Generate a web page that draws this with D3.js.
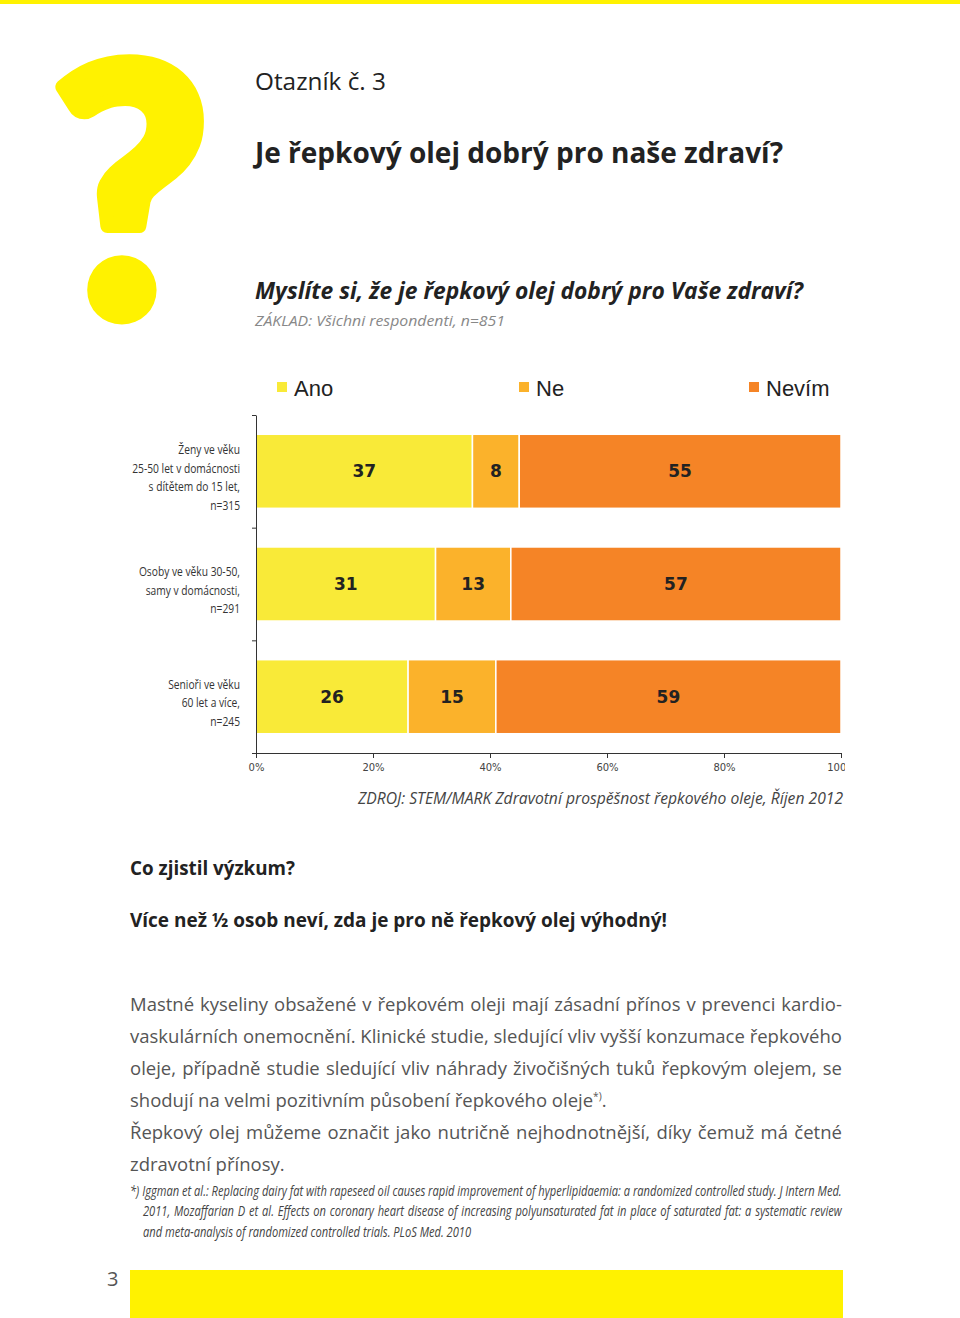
<!DOCTYPE html>
<html>
<head>
<meta charset="utf-8">
<script src="https://cdn.jsdelivr.net/npm/d3@7"></script>
<style>
  body { margin: 0; background: #fff; }
  svg { display: block; }
</style>
</head>
<body>
<div id="chart"></div>
<script>
// data
var groupKeys = ["zeny", "osoby", "seniori"];
var groupLabels = [
  ["Ženy ve věku", "25-50 let v domácnosti", "s dítětem do 15 let,", "n=315"],
  ["Osoby ve věku 30-50,", "samy v domácnosti,", "n=291"],
  ["Senioři ve věku", "60 let a více,", "n=245"]
];
var seriesNames = ["Ano", "Ne", "Nevím"];
var ano = [37, 31, 26];
var ne = [8, 13, 15];
var nevim = [55, 57, 59];
var tickValues = [0, 0.2, 0.4, 0.6, 0.8, 1];

var svgWidth = 960, svgHeight = 1318;
var yellow = "#fff200";
var textFont = "'Open Sans', 'Noto Sans', sans-serif";

var svg = d3.select("#chart")
  .append("svg")
  .attr("width", svgWidth)
  .attr("height", svgHeight);

// page decoration
svg.append("rect").attr("x", 0).attr("y", 0).attr("width", svgWidth).attr("height", 4).attr("fill", yellow);
svg.append("rect").attr("x", 130).attr("y", 1270).attr("width", 713).attr("height", 48).attr("fill", yellow);

// big question mark, thickened with a stroke of the same colour
svg.append("text")
  .attr("transform", "translate(51,315) scale(0.985,1)")
  .attr("font-family", "Lato, sans-serif")
  .attr("font-weight", 900)
  .attr("font-size", 346)
  .attr("fill", yellow)
  .attr("stroke", yellow)
  .attr("stroke-width", 14)
  .attr("stroke-linejoin", "round")
  .text("?");

svg.append("text")
  .attr("x", 107).attr("y", 1286)
  .attr("font-family", textFont).attr("font-size", 20).attr("fill", "#555")
  .text("3");

// headings
function heading(t, x, y, size, w, opts) {
  var s = svg.append("text")
    .attr("x", x).attr("y", y)
    .attr("font-family", textFont)
    .attr("font-size", size)
    .attr("fill", opts.fill || "#222")
    .attr("font-weight", opts.weight || "normal")
    .attr("font-style", opts.style || "normal")
    .attr("textLength", w)
    .attr("lengthAdjust", "spacingAndGlyphs")
    .text(t);
  return s;
}
heading("Otazník č. 3", 255, 90, 23, 131, {fill: "#222"});
heading("Je řepkový olej dobrý pro naše zdraví?", 255, 163, 28, 528, {weight: "bold"});
heading("Myslíte si, že je řepkový olej dobrý pro Vaše zdraví?", 255, 299, 24, 548, {weight: "bold", style: "italic"});
heading("ZÁKLAD: Všichni respondenti, n=851", 255, 326, 15, 250, {style: "italic", fill: "#888"});
heading("ZDROJ: STEM/MARK Zdravotní prospěšnost řepkového oleje, Říjen 2012", 358, 804, 16, 485, {style: "italic", fill: "#444"});
heading("Co zjistil výzkum?", 130, 875, 20, 165, {weight: "bold"});
heading("Více než ½ osob neví, zda je pro ně řepkový olej výhodný!", 130, 927, 20, 537, {weight: "bold"});

// legend
var color = d3.scaleOrdinal()
  .domain(seriesNames)
  .range(["#f9ea38", "#fbb22b", "#f58426"]);
var legendX = [277, 519, 749];

var legend = svg.append("g").selectAll("g")
  .data(seriesNames)
  .enter()
  .append("g")
  .attr("transform", (d, i) => `translate(${legendX[i]}, 382)`);
legend.append("rect").attr("width", 10).attr("height", 10).attr("fill", d => color(d));
legend.append("text")
  .attr("x", 17).attr("y", 14)
  .attr("font-family", "'Liberation Sans', Arial, sans-serif")
  .attr("font-size", 22)
  .attr("fill", "#222")
  .text(d => d);

// chart
var x = d3.scaleLinear().domain([0, 1]).range([256, 841]);
var y = d3.scaleBand().domain(groupKeys).range([415, 753]).paddingInner(0.343).paddingOuter(0.171);
var yEdge = d3.scaleLinear().domain([0, groupKeys.length]).range([415, 753]);

var rows = groupKeys.map(function(k, i) {
  return {key: k, "Ano": ano[i], "Ne": ne[i], "Nevím": nevim[i]};
});
var stacked = d3.stack().keys(seriesNames).offset(d3.stackOffsetExpand)(rows);

svg.append("clipPath").attr("id", "clip")
  .append("rect").attr("x", 200).attr("y", 400).attr("width", 645).attr("height", 400);

var chartGroup = svg.append("g").attr("clip-path", "url(#clip)");

var layers = chartGroup.selectAll("g.layer")
  .data(stacked)
  .enter()
  .append("g")
  .attr("class", "layer")
  .attr("fill", d => color(d.key));

layers.selectAll("rect")
  .data(d => d)
  .enter()
  .append("rect")
  .attr("x", d => x(d[0]))
  .attr("y", d => y(d.data.key))
  .attr("width", d => x(d[1]) - x(d[0]))
  .attr("height", y.bandwidth())
  .attr("stroke", "#fff")
  .attr("stroke-width", 1.5);

layers.selectAll("text")
  .data(function(d) { return d.map(function(p) { return {p: p, key: d.key}; }); })
  .enter()
  .append("text")
  .attr("x", d => (x(d.p[0]) + x(d.p[1])) / 2)
  .attr("y", d => y(d.p.data.key) + y.bandwidth() / 2)
  .attr("dy", "0.36em")
  .attr("text-anchor", "middle")
  .attr("font-family", "'DejaVu Sans', Verdana, sans-serif")
  .attr("font-weight", "bold")
  .attr("font-size", 17)
  .attr("fill", "#222")
  .text(d => d.p.data[d.key]);

var bottomAxis = d3.axisBottom(x)
  .tickValues(tickValues)
  .tickFormat(d3.format(".0%"))
  .tickSize(5)
  .tickSizeOuter(0)
  .tickPadding(6);

var xAxis = chartGroup.append("g")
  .attr("transform", "translate(0, 753)")
  .call(bottomAxis);
xAxis.selectAll("text")
  .attr("font-family", "'DejaVu Sans', Verdana, sans-serif")
  .attr("font-size", 10)
  .attr("fill", "#444");

var leftAxis = d3.axisLeft(yEdge)
  .tickValues(d3.range(groupKeys.length + 1))
  .tickFormat("")
  .tickSize(4)
  .tickSizeOuter(0);
var yAxis = chartGroup.append("g")
  .attr("transform", "translate(256, 0)")
  .call(leftAxis);

chartGroup.selectAll(".domain, .tick line").attr("stroke", "#333");

// category labels (condensed)
var labelGroups = svg.append("g").selectAll("g")
  .data(groupKeys)
  .enter()
  .append("g")
  .attr("transform", d => `translate(240, ${y(d) + y.bandwidth() / 2 + 6})`);

labelGroups.each(function(k, gi) {
  var lines = groupLabels[gi];
  var inner = d3.select(this).append("g").attr("class", "lbl");
  inner.selectAll("text")
    .data(lines)
    .enter()
    .append("text")
    .attr("x", 0)
    .attr("y", (d, i) => (i - (lines.length - 1) / 2) * 18.5)
    .attr("dy", "0.35em")
    .attr("text-anchor", "end")
    .attr("font-family", textFont)
    .attr("font-size", 13)
    .attr("fill", "#333")
    .text(d => d);
});
// squeeze labels so the longest line has the printed width
var longest = 0;
svg.selectAll("g.lbl text").each(function() { longest = Math.max(longest, this.getComputedTextLength()); });
svg.selectAll("g.lbl").attr("transform", `scale(${108 / longest}, 1)`);

// justified text blocks
var bodyLines = [
  {parts: [{t: "Mastné kyseliny obsažené v řepkovém oleji mají zásadní přínos v prevenci kardio-"}], just: true},
  {parts: [{t: "vaskulárních onemocnění. Klinické studie, sledující vliv vyšší konzumace řepkového"}], just: true},
  {parts: [{t: "oleje, případně studie sledující vliv náhrady živočišných tuků řepkovým olejem, se"}], just: true},
  {parts: [{t: "shodují na velmi pozitivním působení řepkového oleje"}, {t: "*)", sup: true}, {t: "."}], just: false},
  {parts: [{t: "Řepkový olej můžeme označit jako nutričně nejhodnotnější, díky čemuž má četné"}], just: true},
  {parts: [{t: "zdravotní přínosy."}], just: false}
];
var noteLines = [
  {parts: [{t: "*) Iggman et al.: Replacing dairy fat with rapeseed oil causes rapid improvement of hyperlipidaemia: a randomized controlled study. J Intern Med."}], just: true, indent: 0},
  {parts: [{t: "2011, Mozaffarian D et al. Effects on coronary heart disease of increasing polyunsaturated fat in place of saturated fat: a systematic review"}], just: true, indent: 13},
  {parts: [{t: "and meta-analysis of randomized controlled trials. PLoS Med. 2010"}], just: false, indent: 13}
];

function textBlock(lines, x0, y0, fullW, lh, style) {
  var outer = svg.append("g").attr("transform", `translate(${x0}, ${y0})`);
  var g = outer.append("g");
  var texts = g.selectAll("text")
    .data(lines)
    .enter()
    .append("text")
    .attr("y", (d, i) => i * lh)
    .attr("font-family", textFont)
    .attr("font-size", style.size)
    .attr("font-style", style.italic ? "italic" : "normal")
    .attr("fill", style.fill);
  texts.each(function(d) {
    var t = d3.select(this);
    d.parts.forEach(function(p) {
      var ts = t.append("tspan").text(p.t);
      if (p.sup) ts.attr("font-size", style.size * 0.55).attr("baseline-shift", "super");
    });
    d.len = this.getComputedTextLength();
  });
  var sx = d3.min(lines.filter(d => d.just), d => (fullW - (d.indent || 0)) / d.len);
  texts.attr("x", d => (d.indent || 0) / sx)
    .attr("word-spacing", function(d) {
      if (!d.just) return 0;
      var spaces = d.parts.map(p => p.t).join("").split(" ").length - 1;
      return ((fullW - (d.indent || 0)) / sx - d.len) / spaces;
    });
  g.attr("transform", `scale(${sx}, 1)`);
}

textBlock(bodyLines, 130, 1011, 712, 32, {size: 19, fill: "#555"});
textBlock(noteLines, 130, 1196, 713, 20.5, {size: 14, italic: true, fill: "#444"});
</script>
</body>
</html>
